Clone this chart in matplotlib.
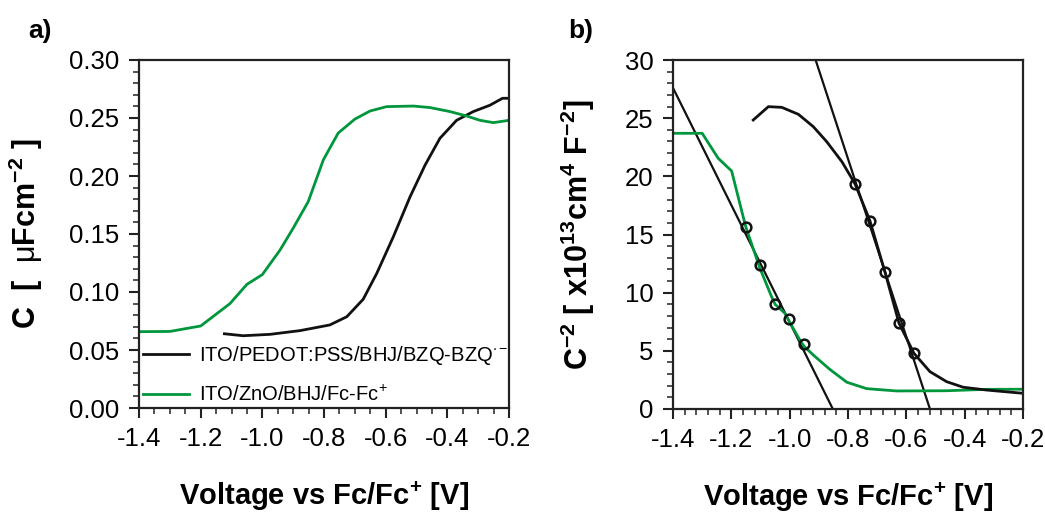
import matplotlib
matplotlib.use("Agg")
import matplotlib.pyplot as plt
from matplotlib.ticker import MultipleLocator, FormatStrFormatter

plt.rcParams['font.family'] = ['Liberation Sans', 'DejaVu Sans']
plt.rcParams['mathtext.fontset'] = 'custom'
plt.rcParams['mathtext.rm'] = 'Liberation Sans'
plt.rcParams['mathtext.bf'] = 'Liberation Sans:bold'
plt.rcParams['mathtext.default'] = 'regular'

GREEN = '#00963c'

# ---- panel a data ----
va_green = [-1.40, -1.30, -1.20, -1.105, -1.05, -1.00, -0.943, -0.90, -0.851, -0.802, -0.754,
            -0.70, -0.651, -0.597, -0.51, -0.456, -0.391, -0.337, -0.294, -0.251, -0.20]
ca_green = [0.0658, 0.066, 0.0707, 0.090, 0.1066, 0.115, 0.136, 0.155, 0.178, 0.214, 0.237,
            0.249, 0.256, 0.2598, 0.2603, 0.259, 0.2555, 0.2517, 0.248, 0.246, 0.248]
va_black = [-1.123, -1.062, -0.975, -0.878, -0.781, -0.726, -0.673, -0.629, -0.575, -0.521,
            -0.472, -0.424, -0.370, -0.316, -0.262, -0.221, -0.20]
ca_black = [0.064, 0.0623, 0.0635, 0.0667, 0.0716, 0.0787, 0.0937, 0.116, 0.1477, 0.182,
            0.2095, 0.2325, 0.248, 0.2555, 0.261, 0.267, 0.267]
labels_a = [r'ITO/PEDOT:PSS/BHJ/BZQ-BZQ$^{\cdot -}$', r'ITO/ZnO/BHJ/Fc-Fc$^{+}$']

# ---- panel b data ----
vb_green = [-1.40, -1.30, -1.245, -1.199, -1.161, -1.150, -1.102, -1.062, -1.050, -1.016, -1.001,
            -0.965, -0.951, -0.919, -0.862, -0.804, -0.736, -0.633, -0.462, -0.325, -0.20]
yb_green = [23.7, 23.7, 21.55, 20.46, 16.68, 15.62, 12.1, 9.65, 9.0, 8.22, 7.5,
            5.93, 5.4, 4.64, 3.4, 2.3, 1.75, 1.55, 1.57, 1.69, 1.7]
vb_black = [-1.125, -1.073, -1.027, -0.970, -0.919, -0.873, -0.821, -0.787, -0.775, -0.725,
            -0.673, -0.625, -0.574, -0.519, -0.462, -0.405, -0.325, -0.20]
yb_black = [24.84, 25.99, 25.93, 25.33, 24.27, 22.98, 21.26, 19.83, 19.3, 16.19,
            11.75, 7.37, 4.79, 3.21, 2.35, 1.87, 1.63, 1.35]
fit1_v = [-1.150, -1.102, -1.050, -1.001, -0.951]
fit1_y = [15.62, 12.38, 9.0, 7.71, 5.56]
fit2_v = [-0.775, -0.725, -0.673, -0.625, -0.574]
fit2_y = [19.3, 16.19, 11.75, 7.37, 4.79]
line1_v = [-1.40, -0.852]
line1_y = [27.6, 0.0]
line2_v = [-0.911, -0.519]
line2_y = [30.0, 0.0]

fig = plt.figure(figsize=(10.45, 5.14), dpi=100)
axa = fig.add_axes([139/1045, 1 - 408/514, 370/1045, 348/514])
axb = fig.add_axes([673/1045, 1 - 409/514, 350/1045, 349/514])

for ax in (axa, axb):
    for s in ax.spines.values():
        s.set_linewidth(1.6)
        s.set_color('#222222')
    ax.tick_params(which='both', direction='out', top=False, right=False, color='#222222')
    ax.tick_params(which='major', length=7, width=1.5, labelsize=18.5, pad=7)
    ax.tick_params(which='minor', length=4.5, width=1.1)
    ax.set_xlim(-1.4, -0.2)
    ax.xaxis.set_major_locator(MultipleLocator(0.2))
    ax.xaxis.set_major_formatter(FormatStrFormatter('%.1f'))

# panel a
la, = axa.plot(va_black, ca_black, color='#111111', lw=2.0)
lg, = axa.plot(va_green, ca_green, color=GREEN, lw=2.0)
axa.set_ylim(0, 0.30)
axa.yaxis.set_major_locator(MultipleLocator(0.05))
axa.yaxis.set_minor_locator(MultipleLocator(0.01))
axa.xaxis.set_minor_locator(MultipleLocator(0.05))
axa.yaxis.set_major_formatter(FormatStrFormatter('%.2f'))
axa.set_xlabel(r'Voltage vs Fc/Fc$^{+}$ [V]', fontsize=21, fontweight='bold')
axa.set_ylabel(r'C  [  $\mathrm{\mu}$Fcm$^{-2}$ ]', fontsize=22, fontweight='bold')
axa.xaxis.set_label_coords(0.5, -0.205)
axa.yaxis.set_label_coords(-0.255, 0.5)
axa.legend([la, lg], labels_a, loc='lower left', bbox_to_anchor=(-0.022, -0.025),
           frameon=False, fontsize=14.5, handlelength=2.3, handletextpad=0.5,
           labelspacing=0.85, borderaxespad=0.2)
fig.text(28/1045, 1 - 31/514, 'a)', fontsize=19, fontweight='bold', va='center', ha='left')

# panel b
axb.plot(line1_v, line1_y, color='#111111', lw=1.6)
axb.plot(line2_v, line2_y, color='#111111', lw=1.6)
axb.plot(vb_green, yb_green, color=GREEN, lw=2.0)
axb.plot(vb_black, yb_black, color='#111111', lw=2.0)
axb.plot(fit1_v, fit1_y, ls='none', marker='o', ms=7, mfc='none', mec='#111111', mew=1.8)
axb.plot(fit2_v, fit2_y, ls='none', marker='o', ms=7, mfc='none', mec='#111111', mew=1.8)
axb.set_ylim(0, 30)
axb.yaxis.set_major_locator(MultipleLocator(5))
axb.yaxis.set_minor_locator(MultipleLocator(1))
axb.xaxis.set_minor_locator(MultipleLocator(0.04))
axb.set_xlabel(r'Voltage vs Fc/Fc$^{+}$ [V]', fontsize=21, fontweight='bold')
axb.set_ylabel(r'C$^{-2}$ [ x10$^{13}$cm$^{4}$ F$^{-2}$]', fontsize=22, fontweight='bold')
axb.xaxis.set_label_coords(0.5, -0.205)
axb.yaxis.set_label_coords(-0.217, 0.5)
fig.text(568/1045, 1 - 31/514, 'b)', fontsize=19, fontweight='bold', va='center', ha='left')

fig.savefig('out.png', dpi=100)
